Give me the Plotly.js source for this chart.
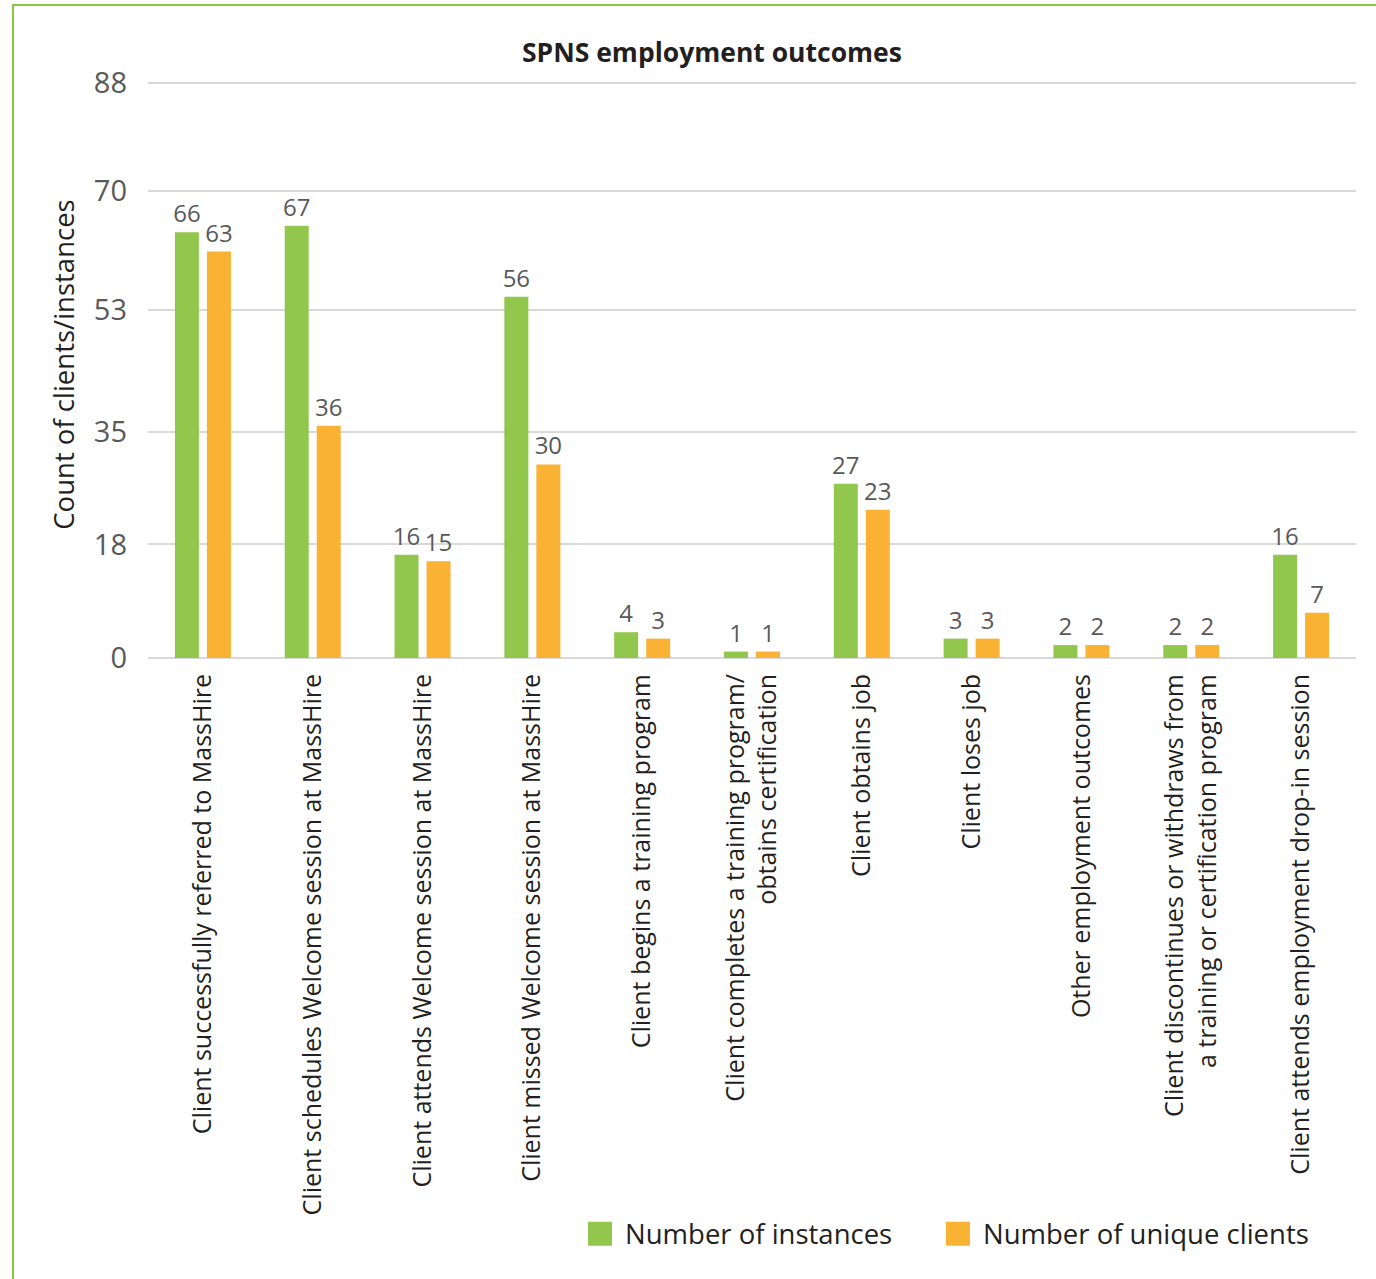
<!DOCTYPE html>
<html>
<head>
<meta charset="utf-8">
<script src="https://cdn.plot.ly/plotly-3.0.1.min.js"></script>
<style>
  html, body { margin: 0; padding: 0; background: #ffffff; }
  #frame { position: absolute; left: 12px; top: 4px; width: 1420px; height: 1320px; border: 2px solid #8dc63f; box-sizing: border-box; }
  #chart { position: absolute; left: 0; top: 0; width: 1376px; height: 1279px; }
</style>
</head>
<body>
<div id="frame"></div>
<div id="chart"></div>
<script>
const categories = [
  "Client successfully referred to MassHire",
  "Client schedules Welcome session at MassHire",
  "Client attends Welcome session at MassHire",
  "Client missed Welcome session at MassHire",
  "Client begins a training program",
  "Client completes a training program/<br>obtains certification",
  "Client obtains job",
  "Client loses job",
  "Other employment outcomes",
  "Client discontinues or withdraws from<br>a training or certification program",
  "Client attends employment drop-in session"
];
const instances = [66, 67, 16, 56, 4, 1, 27, 3, 2, 2, 16];
const uniqueClients = [63, 36, 15, 30, 3, 1, 23, 3, 2, 2, 7];
const tickValues = [0, 17.6, 35.1, 53.9, 72.4, 89.1];
const tickLabels = ["0", "18", "35", "53", "70", "88"];
const seriesNames = ["Number of instances", "Number of unique clients"];

const FONT = "'Open Sans', 'Noto Sans', sans-serif";
const SPACER = "\u00a0\u00a0\u00a0\u00a0\u00a0";

const traces = [
  {
    type: "bar", name: seriesNames[0] + SPACER, x: categories, y: instances,
    marker: { color: "#92c74e" },
    text: instances.map(String), textposition: "outside", cliponaxis: false,
    constraintext: "none",
    textfont: { family: FONT, size: 24, color: "#595959" },
    hoverinfo: "x+y"
  },
  {
    type: "bar", name: seriesNames[1], x: categories, y: uniqueClients,
    marker: { color: "#f9b233" },
    text: uniqueClients.map(String), textposition: "outside", cliponaxis: false,
    constraintext: "none",
    textfont: { family: FONT, size: 24, color: "#595959" },
    hoverinfo: "x+y"
  }
];

const layout = {
  width: 1376, height: 1279,
  paper_bgcolor: "rgba(0,0,0,0)", plot_bgcolor: "rgba(0,0,0,0)",
  margin: { l: 148, r: 20, t: 71, b: 621 },
  font: { family: FONT, color: "#231f20" },
  title: {
    text: "<b>SPNS employment outcomes</b>",
    font: { family: FONT, size: 26.5, color: "#231f20" },
    x: 0.5174, xanchor: "center", xref: "container",
    y: 0.959, yanchor: "middle", yref: "container"
  },
  barmode: "group",
  bargap: 0.417,
  bargroupgap: 0.25,
  xaxis: {
    tickangle: -90,
    tickfont: { family: FONT, size: 25, color: "#231f20" },
    automargin: false,
    showgrid: false, showline: false, ticks: "",
    ticklabelstandoff: 10
  },
  yaxis: {
    range: [0, 91],
    tickvals: tickValues, ticktext: tickLabels,
    tickfont: { family: FONT, size: 29, color: "#595959" },
    showgrid: true, gridcolor: "#d9d9d9", gridwidth: 2,
    zeroline: true, zerolinecolor: "#d9d9d9", zerolinewidth: 2,
    showline: false, ticks: "",
    automargin: false,
    ticklabelstandoff: 20,
    title: { text: "Count of clients/instances", font: { family: FONT, size: 27.5, color: "#231f20" }, standoff: 11 }
  },
  showlegend: true,
  legend: {
    orientation: "h",
    x: 0.3535, xanchor: "left",
    y: -0.981, yanchor: "middle",
    font: { family: FONT, size: 27.5, color: "#231f20" },
    itemwidth: 40,
    bgcolor: "rgba(0,0,0,0)"
  }
};

Plotly.newPlot("chart", traces, layout, { displayModeBar: false, responsive: false }).then(function () {
  document.querySelectorAll("#chart .legend .legendpoints path").forEach(function (p) {
    p.setAttribute("d", "M12,12H-12V-12H12Z");
  });
});
</script>
</body>
</html>
